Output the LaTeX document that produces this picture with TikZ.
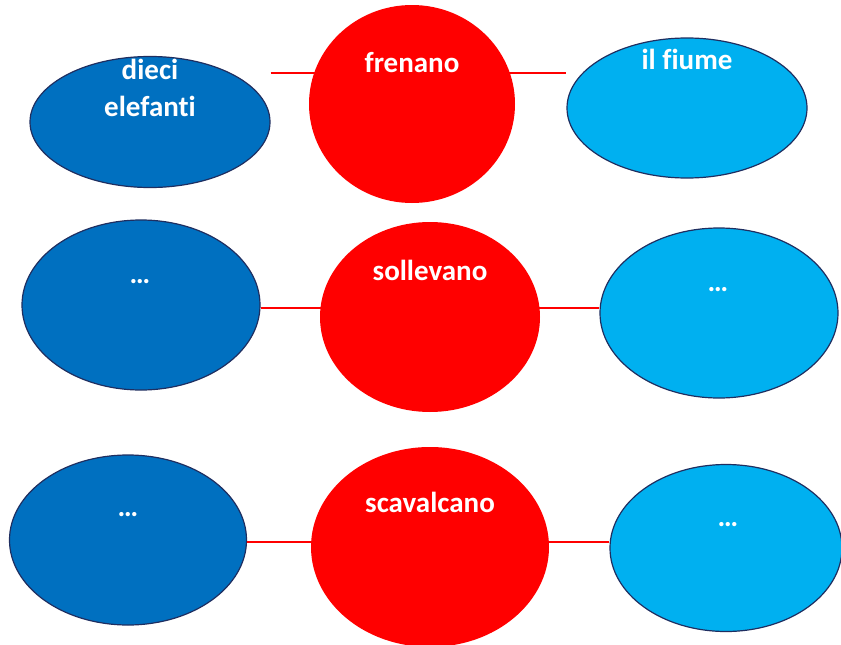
\documentclass[tikz,border=0pt]{standalone}
\usepackage{fontspec}
\setmainfont[Ligatures=NoCommon]{Carlito}
\usetikzlibrary{shapes.geometric}
\definecolor{darkblu}{HTML}{0070C0}
\definecolor{lightblu}{HTML}{00B0F0}
\definecolor{navy}{HTML}{1F2E60}
\definecolor{rosso}{HTML}{FF0000}
\tikzset{
  x=1pt, y=-1pt,
  oval/.style={ellipse, inner sep=0pt, line width=1.2pt},
  subj/.style={oval, fill=darkblu, draw=navy},
  obj/.style={oval, fill=lightblu, draw=navy},
  verb/.style={oval, fill=rosso},
  lbl/.style={anchor=base, text=white, font=\bfseries\fontsize{29}{37}\selectfont, align=center, inner sep=0pt},
  link/.style={draw=rosso, line width=2pt}
}
\begin{document}
\begin{tikzpicture}
\useasboundingbox (0,0) rectangle (841,645);
% row coordinates for connectors
\coordinate (y1) at (0,73);
\coordinate (y2) at (0,308);
\coordinate (y3) at (0,542);
% ellipses
\node[subj, minimum width=240pt, minimum height=131pt] (L1) at (150,122) {};
\node[obj,  minimum width=240pt, minimum height=140pt] (R1) at (687,108) {};
\node[subj, minimum width=238pt, minimum height=170pt] (L2) at (141,305) {};
\node[obj,  minimum width=238pt, minimum height=170pt] (R2) at (719,313) {};
\node[subj, minimum width=237pt, minimum height=170pt] (L3) at (128,540) {};
\node[obj,  minimum width=232pt, minimum height=167pt] (R3) at (726,548) {};
% connectors
\draw[link] (L1.east |- y1) -- (R1.west |- y1);
\draw[link] (L2.east |- y2) -- (R2.west |- y2);
\draw[link] (L3.east |- y3) -- (R3.west |- y3);
% verbs
\node[verb, minimum width=206pt, minimum height=198pt] (C1) at (412,104) {};
\node[verb, minimum width=220pt, minimum height=190pt] (C2) at (430,317) {};
\node[verb, minimum width=238pt, minimum height=200pt] (C3) at (430,547) {};
% labels
\node[lbl] (tL1) at (150,116) {dieci\\elefanti};
\node[lbl] (tC1) at (412,72) {frenano};
\node[lbl] (tR1) at (687,69) {il fiume};
\node[lbl] (tL2) at (140,283) {…};
\node[lbl] (tC2) at (430,280) {sollevano};
\node[lbl] (tR2) at (718,291) {…};
\node[lbl] (tL3) at (128,516) {…};
\node[lbl] (tC3) at (430,512) {scavalcano};
\node[lbl] (tR3) at (728,526) {…};
\end{tikzpicture}
\end{document}
